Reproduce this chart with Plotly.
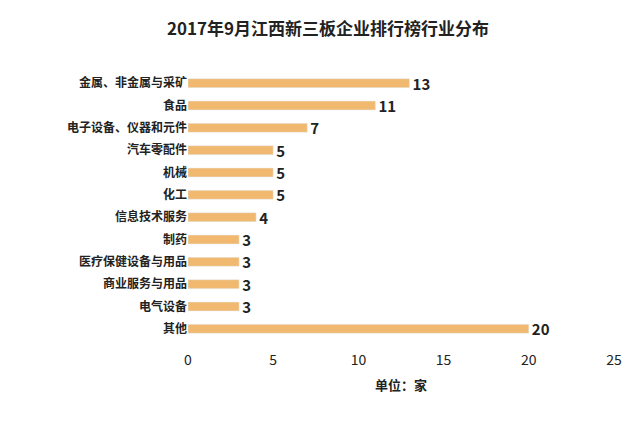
import plotly.graph_objects as go

categories = ["金属、非金属与采矿", "食品", "电子设备、仪器和元件", "汽车零配件", "机械", "化工",
              "信息技术服务", "制药", "医疗保健设备与用品", "商业服务与用品", "电气设备", "其他"]
counts = [13, 11, 7, 5, 5, 5, 4, 3, 3, 3, 3, 20]

font = "Noto Sans CJK SC"

fig = go.Figure()
fig.add_trace(go.Bar(
    y=categories, x=counts, orientation="h",
    marker_color="#F0B96F",
    text=["<b>%d</b>" % c for c in counts], textposition="outside",
    constraintext="none",
    textfont=dict(size=15, color="#222222", family=font),
    cliponaxis=False,
))
fig.update_layout(
    width=640, height=428,
    margin=dict(l=180, r=34, t=64, b=96),
    plot_bgcolor="white", paper_bgcolor="white",
    bargap=0.6,
    showlegend=False,
    title=dict(text="<b>2017年9月江西新三板企业排行榜行业分布</b>", x=0.5, xanchor="center",
               y=0.965, font=dict(size=17, color="#222222", family=font)),
    font=dict(family=font, color="#222222"),
)
fig.update_xaxes(range=[0, 25], dtick=5, showgrid=False, zeroline=False,
                 ticklabelstandoff=10,
                 tickfont=dict(size=14, color="#222222"),
                 title=dict(text="<b>单位：家</b>", font=dict(size=13), standoff=12))
fig.update_yaxes(autorange="reversed", showgrid=False,
                 tickvals=categories, ticktext=["<b>%s</b>" % c for c in categories],
                 tickfont=dict(size=12, color="#222222"), ticksuffix=" ")
fig.write_html("out.html")
